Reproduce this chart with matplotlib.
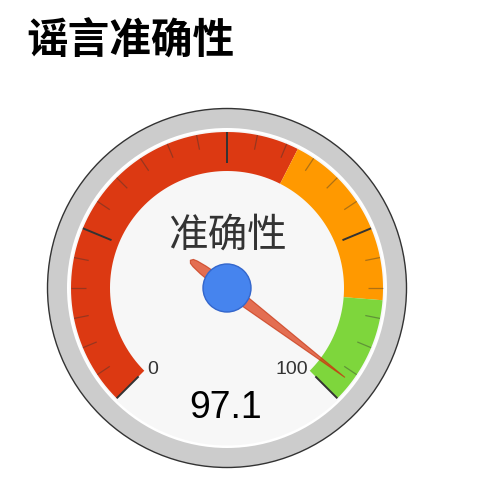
import numpy as np
import matplotlib
matplotlib.use("Agg")
import matplotlib.pyplot as plt
from matplotlib.patches import Circle, Polygon

plt.rcParams['font.family'] = ['Noto Sans CJK SC', 'DejaVu Sans']

# data
title = '谣言准确性'
label = '准确性'
value = 97.1
vmin, vmax = 0, 100
bands = [(0, 60, '#DC3912'), (60, 85, '#FF9900'), (85, 100, '#7ED63C')]
major_ticks = 5          # number of major tick marks
minor_ticks = 6          # subdivisions between two major ticks
end_labels = ['0', '100']

W, H = 482, 495
cx, cy = 227, 288        # gauge centre, pixels
R = 180


def ang(v):
    return np.deg2rad(225 - 270 * (v - vmin) / (vmax - vmin))


def pt(r, a):
    return cx + r * np.cos(a), cy - r * np.sin(a)


def band(r0, r1, v0, v1, color):
    a = np.linspace(ang(v0), ang(v1), 80)
    outer = np.column_stack(pt(r1, a))
    inner = np.column_stack(pt(r0, a[::-1]))
    return Polygon(np.vstack([outer, inner]), closed=True, fc=color, ec='none', zorder=3)


fig = plt.figure(figsize=(W / 100, H / 100), dpi=100)
ax = fig.add_axes([0, 0, 1, 1])
ax.set_xlim(0, W)
ax.set_ylim(H, 0)
ax.axis('off')

# title
ax.text(26, 42, title, fontsize=30, fontweight='heavy', color='black', ha='left', va='center')

# body of the gauge
ax.add_patch(Circle((cx, cy), R - 0.5, fc='#CCCCCC', ec='#333333', lw=1.0, zorder=1))
ax.add_patch(Circle((cx, cy), 160, fc='#FFFFFF', ec='none', zorder=2))
ax.add_patch(Circle((cx, cy), 157.5, fc='#F7F7F7', ec='none', zorder=2))

for v0, v1, c in bands:
    ax.add_patch(band(117, 156, v0, v1, c))

# ticks
majors = np.linspace(vmin, vmax, major_ticks)
for i, v in enumerate(majors):
    a = ang(v)
    x0, y0 = pt(125, a)
    x1, y1 = pt(156, a)
    ax.plot([x0, x1], [y0, y1], color='#333333', lw=1.4, zorder=4, solid_capstyle='butt')
    if i < len(majors) - 1:
        step = (majors[i + 1] - v) / minor_ticks
        for k in range(1, minor_ticks):
            a = ang(v + k * step)
            x0, y0 = pt(141, a)
            x1, y1 = pt(156, a)
            ax.plot([x0, x1], [y0, y1], color='#333333', lw=0.9, alpha=0.4, zorder=4,
                    solid_capstyle='butt')

# end labels
ax.text(147, 370, end_labels[0], fontsize=14, color='#333333', ha='left', va='center',
        family=['Liberation Sans', 'DejaVu Sans'])
ax.text(308, 370, end_labels[1], fontsize=14, color='#333333', ha='right', va='center',
        family=['Liberation Sans', 'DejaVu Sans'])

# label and value
ax.text(cx, 236, label, fontsize=28.5, color='#333333', ha='center', va='center')
ax.text(cx - 1, 408, f'{value:g}', fontsize=27, color='black', ha='center', va='center',
        family=['Liberation Sans', 'DejaVu Sans'])

# needle
a = ang(value)
s = np.array([-46, -44, -40, -30, -15, 0, 148])
w = np.array([0, 2.5, 3.6, 4.8, 5.6, 6.2, 0])
side1 = np.column_stack([s, w])
side2 = np.column_stack([s[::-1], -w[::-1]])
shape = np.vstack([side1, side2])
ca, sa = np.cos(a), np.sin(a)
xs = cx + shape[:, 0] * ca - shape[:, 1] * sa
ys = cy - (shape[:, 0] * sa + shape[:, 1] * ca)
ax.add_patch(Polygon(np.column_stack([xs, ys]), closed=True, fc='#DC3912', alpha=0.72,
                     ec='#C63310', lw=0.8, zorder=5))

ax.add_patch(Circle((cx, cy), 24, fc='#4684EE', ec='#3366CC', lw=1.0, zorder=6))

fig.savefig('out.png', dpi=100)
